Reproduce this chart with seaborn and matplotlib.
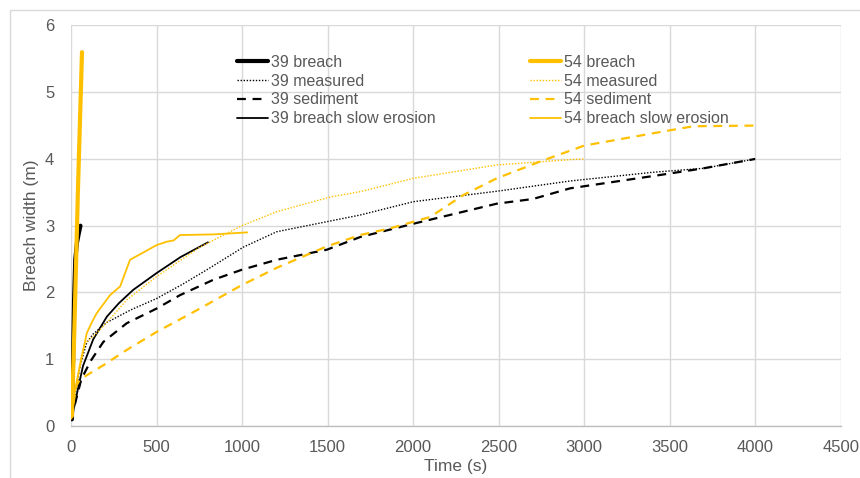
import matplotlib
matplotlib.use("Agg")
import matplotlib.pyplot as plt
import seaborn as sns
import pandas as pd
from matplotlib.patches import Rectangle

# ---- data ----
t39_breach = [5, 12, 18, 25, 35, 45, 55]
w39_breach = [0.1, 1.0, 1.9, 2.5, 2.75, 2.88, 3.0]

t39_measured = [0, 20, 53, 92, 130, 209, 350, 501, 650, 794, 1008, 1203, 1690, 2002, 2500, 2918, 3400, 3700, 4000]
w39_measured = [0.1, 0.4, 0.9, 1.25, 1.38, 1.55, 1.74, 1.91, 2.12, 2.34, 2.68, 2.91, 3.16, 3.36, 3.52, 3.67, 3.8, 3.86, 4.0]

t39_sediment = [0, 30, 60, 100, 111, 189, 326, 501, 637, 832, 998, 1203, 1495, 1690, 2002, 2489, 2700, 2918, 3444, 3698, 4000]
w39_sediment = [0.1, 0.4, 0.7, 0.9, 0.96, 1.26, 1.54, 1.76, 1.96, 2.19, 2.34, 2.49, 2.64, 2.83, 3.03, 3.33, 3.4, 3.56, 3.76, 3.86, 4.0]

t39_slow = [0, 20, 40, 70, 100, 130, 170, 210, 280, 364, 500, 640, 800]
w39_slow = [0.1, 0.3, 0.55, 0.9, 1.1, 1.3, 1.47, 1.64, 1.84, 2.04, 2.29, 2.53, 2.75]

t54_breach = [5, 20, 40, 64]
w54_breach = [0.15, 1.5, 3.5, 5.6]

t54_measured = [0, 30, 60, 82, 130, 209, 326, 501, 754, 998, 1203, 1515, 1690, 2002, 2489, 2918, 3000]
w54_measured = [0.1, 0.6, 1.05, 1.24, 1.34, 1.55, 1.89, 2.24, 2.68, 3.0, 3.21, 3.43, 3.51, 3.71, 3.91, 3.99, 4.0]

t54_sediment = [0, 30, 53, 189, 326, 501, 754, 998, 1203, 1495, 1690, 1865, 2099, 2294, 2489, 2762, 3000, 3503, 3639, 4000]
w54_sediment = [0.1, 0.6, 0.7, 0.91, 1.14, 1.41, 1.76, 2.11, 2.37, 2.69, 2.86, 2.96, 3.13, 3.46, 3.71, 3.98, 4.2, 4.43, 4.49, 4.5]

t54_slow = [0, 20, 60, 92, 121, 150, 228, 287, 345, 501, 559, 600, 637, 832, 1030]
w54_slow = [0.15, 0.5, 1.0, 1.39, 1.55, 1.69, 1.96, 2.09, 2.49, 2.71, 2.76, 2.78, 2.86, 2.87, 2.9]

x_ticks = [0, 500, 1000, 1500, 2000, 2500, 3000, 3500, 4000, 4500]
y_ticks = [0, 1, 2, 3, 4, 5, 6]

BLACK = "#000000"
GOLD = "#FFC000"
TXT = "#595959"

sns.set_theme(style="white")
plt.rcParams["font.family"] = ["Liberation Sans", "DejaVu Sans"]

fig = plt.figure(figsize=(8.6, 4.78), dpi=100)
ax = fig.add_axes([0.0826, 0.1088, 0.895, 0.838])

series = [
    ("39 breach", t39_breach, w39_breach, BLACK, 3.0, "-"),
    ("39 measured", t39_measured, w39_measured, BLACK, 1.0, (0, (1, 1.2))),
    ("39 sediment", t39_sediment, w39_sediment, BLACK, 1.6, (0, (4, 3))),
    ("39 breach slow erosion", t39_slow, w39_slow, BLACK, 1.3, "-"),
    ("54 breach", t54_breach, w54_breach, GOLD, 3.0, "-"),
    ("54 measured", t54_measured, w54_measured, GOLD, 1.0, (0, (1, 1.2))),
    ("54 sediment", t54_sediment, w54_sediment, GOLD, 1.6, (0, (4, 3))),
    ("54 breach slow erosion", t54_slow, w54_slow, GOLD, 1.3, "-"),
]

handles = []
for name, t, w, c, lw, ls in series:
    df = pd.DataFrame({"t": t, "w": w})
    sns.lineplot(data=df, x="t", y="w", ax=ax, color=c, linewidth=lw,
                 sort=False, estimator=None, label=name)
    line = ax.get_lines()[-1]
    line.set_linestyle(ls)
    handles.append(line)

ax.set_xlim(0, 4500)
ax.set_ylim(0, 6)
ax.set_xticks(x_ticks)
ax.set_yticks(y_ticks)
ax.grid(True, color="#d9d9d9", linewidth=1.0)
ax.set_axisbelow(True)
for s in ["top", "right", "left"]:
    ax.spines[s].set_visible(False)
ax.spines["bottom"].set_color("#bfbfbf")
ax.spines["bottom"].set_linewidth(1.0)
ax.tick_params(axis="both", length=0, labelsize=12, colors=TXT)
ax.tick_params(axis="x", pad=10)
ax.tick_params(axis="y", pad=12)
ax.set_xlabel("Time (s)", fontsize=12.5, color=TXT, labelpad=3)
ax.set_ylabel("Breach width (m)", fontsize=12.5, color=TXT, labelpad=4)

leg = ax.legend(handles=handles, labels=[s[0] for s in series], ncol=2,
                loc="upper left", bbox_to_anchor=(0.215, 0.927), frameon=False,
                fontsize=11.5, handlelength=1.94, handletextpad=0.2,
                columnspacing=5.9, labelspacing=0.24, borderpad=0, borderaxespad=0)
for txt in leg.get_texts():
    txt.set_color(TXT)

# outer light frame (top and left edges visible in reference)
fig.patches.append(Rectangle((10 / 860, -0.05), 1.1, (468 / 478) + 0.05,
                             transform=fig.transFigure, fill=False,
                             edgecolor="#d9d9d9", linewidth=1.0))

fig.savefig("out.png", dpi=100)
